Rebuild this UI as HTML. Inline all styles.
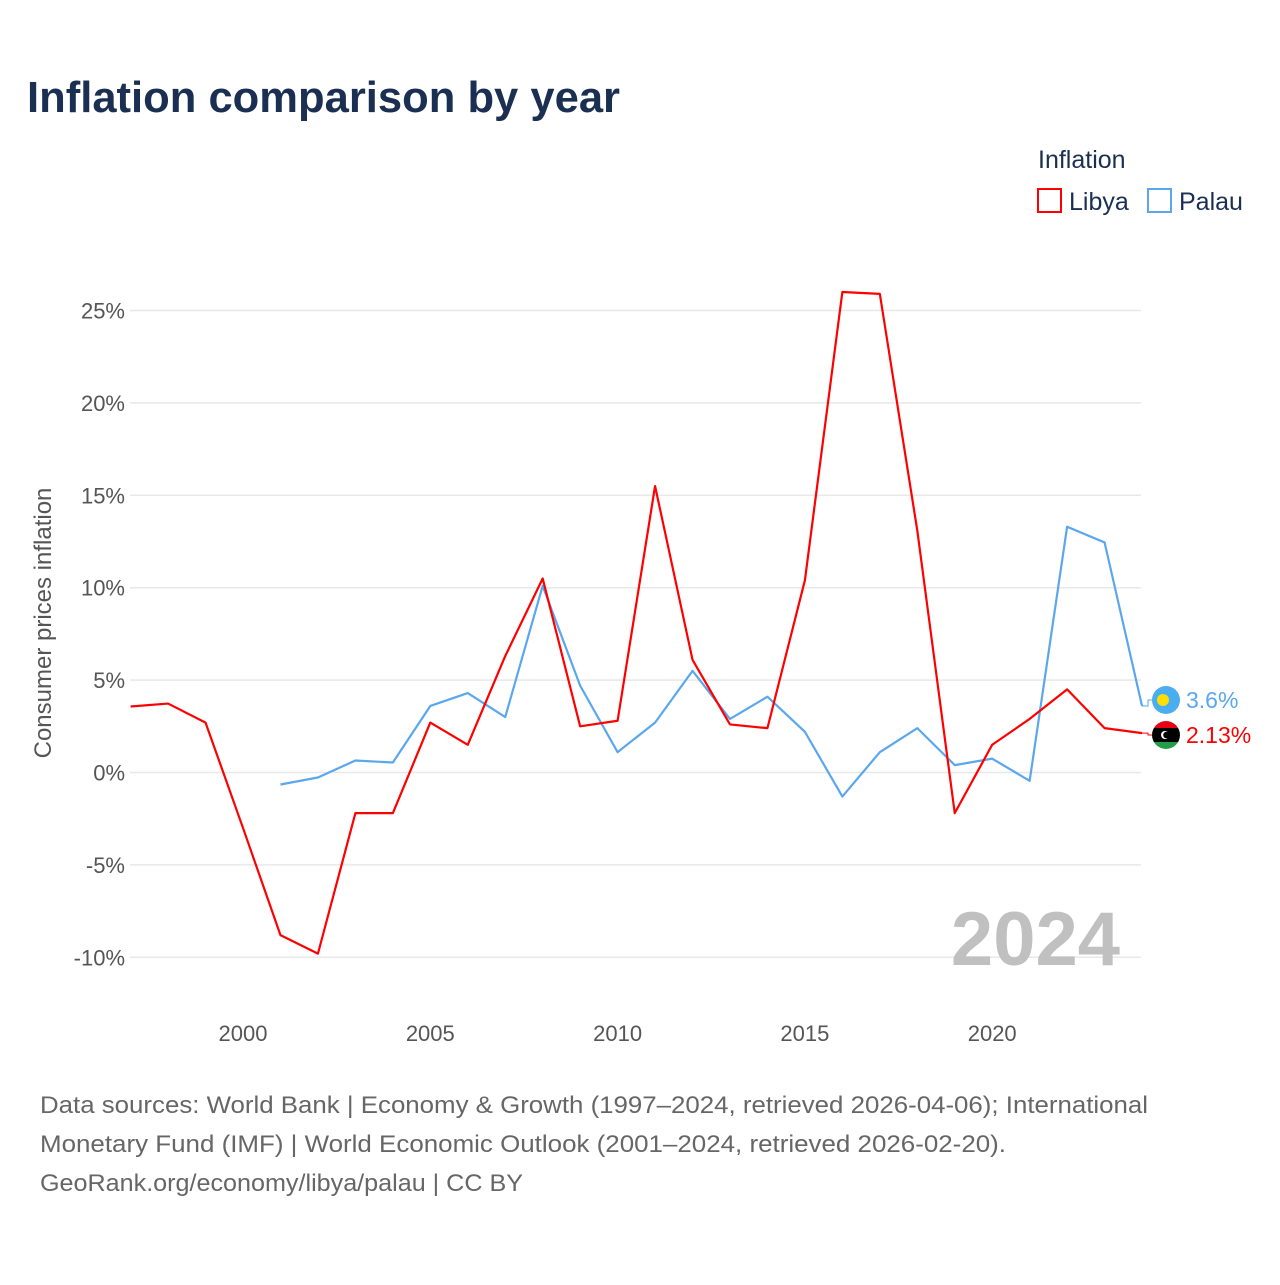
<!DOCTYPE html>
<html><head><meta charset="utf-8">
<style>
body{margin:0;background:#fff;font-family:"Liberation Sans",sans-serif;}
svg text{font-family:"Liberation Sans",sans-serif;}
</style></head>
<body>
<svg width="1280" height="1280" xmlns="http://www.w3.org/2000/svg">
<text x="27" y="112" font-size="44" font-weight="bold" fill="#1a2f52" textLength="593" lengthAdjust="spacingAndGlyphs">Inflation comparison by year</text>
<g>
<text x="1038" y="168" font-size="25" fill="#1a2f52">Inflation</text>
<g><rect x="1038" y="189" width="23" height="23" fill="none" stroke="#ff0000" stroke-width="2"/><text x="1069" y="210" font-size="25" fill="#1a2f52">Libya</text></g>
<g><rect x="1148" y="189" width="23" height="23" fill="none" stroke="#5ba7ee" stroke-width="2"/><text x="1179" y="210" font-size="25" fill="#1a2f52">Palau</text></g>
</g>
<g id="grid"></g>
<g id="series"></g>
<text x="1120" y="965" font-size="76" font-weight="bold" fill="#c0c0c0" text-anchor="end">2024</text>
<text transform="translate(51,623) rotate(-90)" font-size="24" fill="#555" text-anchor="middle">Consumer prices inflation</text>
<g font-size="24" fill="#666">
<text x="40" y="1113" textLength="1108" lengthAdjust="spacingAndGlyphs">Data sources: World Bank | Economy &amp; Growth (1997–2024, retrieved 2026-04-06); International</text>
<text x="40" y="1152" textLength="966" lengthAdjust="spacingAndGlyphs">Monetary Fund (IMF) | World Economic Outlook (2001–2024, retrieved 2026-02-20).</text>
<text x="40" y="1191" textLength="483" lengthAdjust="spacingAndGlyphs">GeoRank.org/economy/libya/palau | CC BY</text>
</g>
</svg>
<script>
const yTicks=[25,20,15,10,5,0,-5,-10];
const xTicks=[2000,2005,2010,2015,2020];
const libyaYears=[1997,1998,1999,2000,2001,2002,2003,2004,2005,2006,2007,2008,2009,2010,2011,2012,2013,2014,2015,2016,2017,2018,2019,2020,2021,2022,2023,2024];
const libyaValues=[3.57,3.73,2.7,-3.0,-8.8,-9.8,-2.2,-2.2,2.7,1.5,6.3,10.5,2.5,2.8,15.5,6.1,2.6,2.4,10.4,26.0,25.9,13.1,-2.2,1.5,2.9,4.5,2.4,2.13];
const palauYears=[2001,2002,2003,2004,2005,2006,2007,2008,2009,2010,2011,2012,2013,2014,2015,2016,2017,2018,2019,2020,2021,2022,2023,2024];
const palauValues=[-0.65,-0.27,0.65,0.54,3.6,4.3,3.0,10.1,4.7,1.1,2.7,5.5,2.9,4.1,2.2,-1.3,1.1,2.4,0.4,0.75,-0.45,13.3,12.45,3.6];
const NS="http://www.w3.org/2000/svg";
const xs=y=>243+(y-2000)*37.46;
const ys=v=>772.5-v*18.48;
const grid=document.getElementById('grid');
yTicks.forEach(t=>{
 const l=document.createElementNS(NS,'line');
 l.setAttribute('x1',130);l.setAttribute('x2',1141);l.setAttribute('y1',ys(t));l.setAttribute('y2',ys(t));
 l.setAttribute('stroke','#e8e8e8');l.setAttribute('stroke-width','1.5');
 
 
 grid.appendChild(l);
 const tx=document.createElementNS(NS,'text');
 tx.setAttribute('x',125);tx.setAttribute('y',ys(t)+8);tx.setAttribute('text-anchor','end');
 tx.setAttribute('font-size','22');tx.setAttribute('fill','#555');
 tx.textContent=t+'%';
 
 
 grid.appendChild(tx);
});
xTicks.forEach(t=>{
 const tx=document.createElementNS(NS,'text');
 tx.setAttribute('x',xs(t));tx.setAttribute('y',1041);tx.setAttribute('text-anchor','middle');
 tx.setAttribute('font-size','22');tx.setAttribute('fill','#555');
 tx.textContent=t;
 
 
 grid.appendChild(tx);
});
const ser=document.getElementById('series');
function line(years,vals,color,name){
 const p=document.createElementNS(NS,'polyline');
 p.setAttribute('points',years.map((y,i)=>xs(y)+','+ys(vals[i])).join(' '));
 p.setAttribute('fill','none');p.setAttribute('stroke',color);p.setAttribute('stroke-width','2.2');
 p.setAttribute('stroke-linejoin','round');
 
 
 ser.appendChild(p);
}
line(palauYears,palauValues,'#5ba7ee','palau-line');
line(libyaYears,libyaValues,'#ff0000','libya-line');
function endLabel(years,vals,color,ly,name,flag){
 const lx=xs(years[years.length-1]), vy=ys(vals[vals.length-1]);
 const c=document.createElementNS(NS,'polyline');
 c.setAttribute('points',lx+','+vy+' '+(lx+6)+','+vy+' '+(lx+6)+','+ly+' '+(lx+12)+','+ly);
 c.setAttribute('fill','none');c.setAttribute('stroke',color);c.setAttribute('stroke-width','1');
 
 
 ser.appendChild(c);
 const g=document.createElementNS(NS,'g');
 
 
 g.innerHTML=flag;
 ser.appendChild(g);
 const t=document.createElementNS(NS,'text');
 t.setAttribute('x',1186);t.setAttribute('y',ly+8);t.setAttribute('font-size','23');t.setAttribute('fill',color);
 t.textContent=(+vals[vals.length-1].toFixed(2))+'%';
 
 
 ser.appendChild(t);
}
endLabel(palauYears,palauValues,'#5ba7ee',700,'palau','<circle cx="1166" cy="700" r="14" fill="#4aadf0"/><circle cx="1163" cy="700" r="6" fill="#ffde00"/>');
endLabel(libyaYears,libyaValues,'#ff0000',735,'libya','<clipPath id="cl"><circle cx="1166" cy="735" r="14"/></clipPath><g clip-path="url(#cl)"><rect x="1150" y="720" width="32" height="8" fill="#e70013"/><rect x="1150" y="728" width="32" height="14" fill="#000"/><rect x="1150" y="742" width="32" height="9" fill="#239e46"/><circle cx="1165" cy="735" r="4" fill="#fff"/><circle cx="1166.5" cy="735" r="3.3" fill="#000"/></g>');
</script>
</body></html>
